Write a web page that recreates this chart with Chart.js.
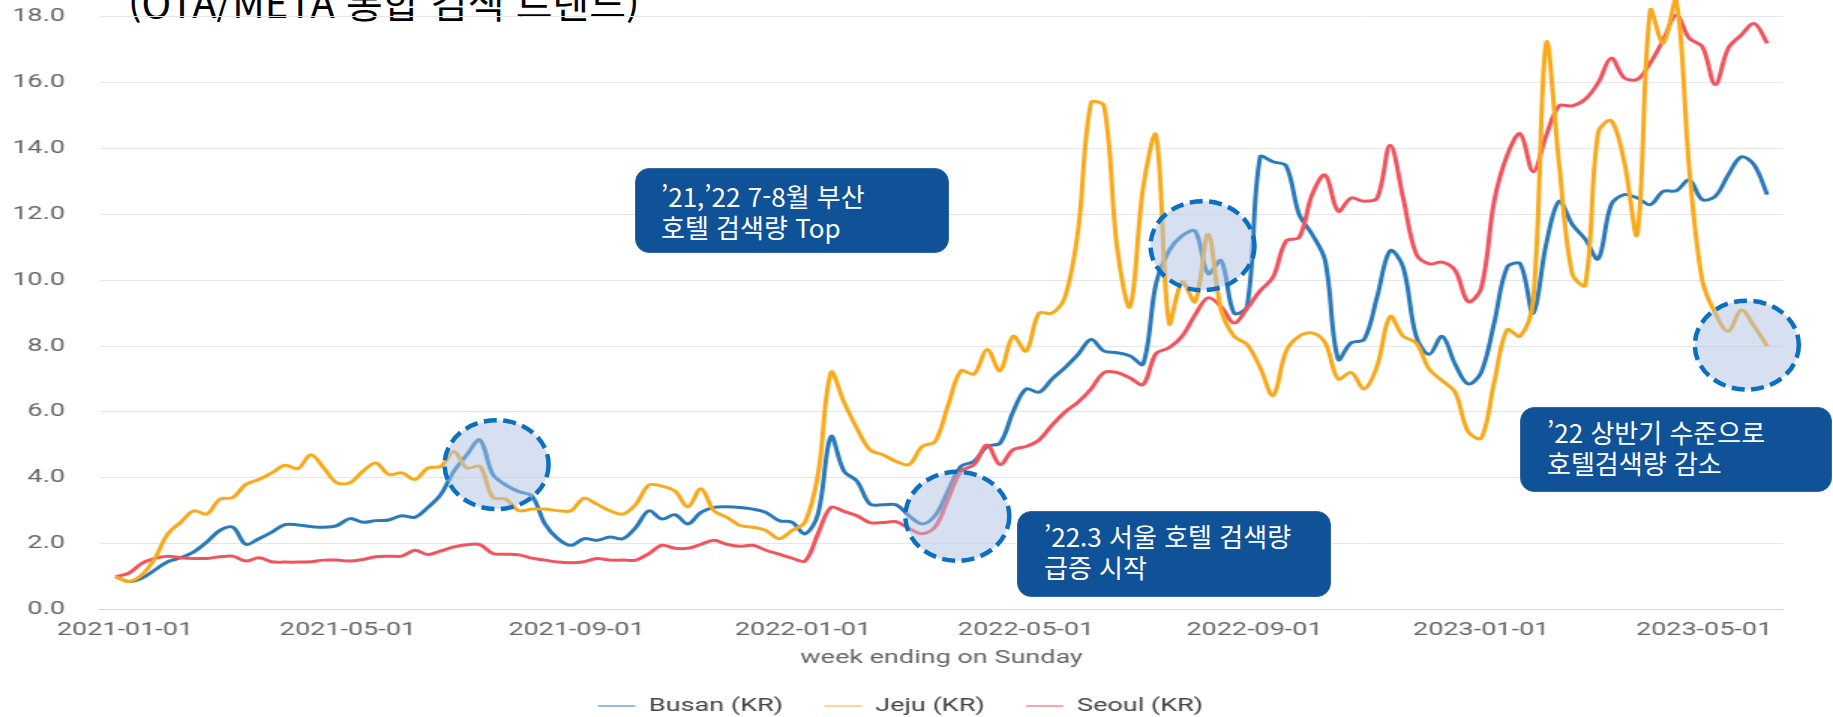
<!DOCTYPE html>
<html lang="ko">
<head>
<meta charset="utf-8">
<title>호텔 검색 트렌드</title>
<script src="https://cdn.jsdelivr.net/npm/chart.js@4.4.1/dist/chart.umd.min.js"></script>
<style>
  html, body { margin: 0; padding: 0; background: #fff; overflow: hidden; }
  body { width: 1833px; height: 717px; position: relative; }
  /* the source chart was stretched sideways, so the canvas is drawn narrow and scaled */
  #wrap { position: absolute; left: 0; top: -28px; width: 1222px; height: 753px;
          transform: scaleX(1.5); transform-origin: 0 0; }
  #overlay { position: absolute; left: 0; top: 0; width: 1833px; height: 717px; pointer-events: none; }
  .title { position: absolute; left: 128px; top: -19px; font: 400 40px/40px "Noto Sans CJK KR", sans-serif;
           color: #000; white-space: nowrap; }
  .note { position: absolute; box-sizing: border-box; background: #0f5298; color: #fff;
          border: 1px solid #3566a0; border-radius: 14px; font: 400 26px/31px "Noto Sans CJK KR", sans-serif;
          white-space: nowrap; }
</style>
</head>
<body>
<div class="title">(OTA/META 통합 검색 트렌드)</div>
<div id="wrap"><canvas id="trend" width="1222" height="753"></canvas></div>
<svg id="overlay" width="1833" height="717"></svg>
<div class="note" style="left:635px; top:168px; width:314px; height:85px; padding:11px 0 0 25px;">’21,’22 7-8월 부산<br>호텔 검색량 Top</div>
<div class="note" style="left:1017px; top:511px; width:314px; height:86px; padding:8px 0 0 26px;">’22.3 서울 호텔 검색량<br>급증 시작</div>
<div class="note" style="left:1520px; top:407px; width:312px; height:85px; padding:8px 0 0 26px;">’22 상반기 수준으로<br>호텔검색량 감소</div>
<script>
// weekly values, first week ends 2020-12-27
const firstWeek = "2020-12-27";

const busan = [1.0, 0.85, 0.95, 1.2, 1.45, 1.57, 1.75, 2.05, 2.4, 2.5,
  1.98, 2.15, 2.35, 2.58, 2.57, 2.52, 2.5, 2.55, 2.76, 2.65,
  2.7, 2.72, 2.85, 2.8, 3.1, 3.5, 4.2, 4.7, 5.15, 4.1,
  3.78, 3.58, 3.45, 2.6, 2.15, 1.95, 2.15, 2.1, 2.2, 2.15,
  2.5, 3.0, 2.75, 2.88, 2.6, 2.95, 3.1, 3.12, 3.1, 3.05,
  2.95, 2.7, 2.65, 2.3, 2.9, 5.25, 4.2, 3.9, 3.2, 3.18,
  3.18, 2.85, 2.6, 2.85, 3.6, 4.35, 4.5, 4.95, 5.05, 6.0,
  6.7, 6.6, 7.0, 7.35, 7.75, 8.2, 7.85, 7.8, 7.7, 7.45,
  9.9, 10.9, 11.35, 11.5, 10.2, 10.6, 9.0, 9.2, 13.75, 13.6,
  13.48, 12.0, 11.4, 10.6, 7.6, 8.1, 8.2, 9.5, 10.9, 10.4,
  8.3, 7.75, 8.3, 7.45, 6.85, 7.2, 8.7, 10.4, 10.5, 9.0,
  11.1, 12.4, 11.7, 11.25, 10.65, 12.3, 12.6, 12.5, 12.3, 12.7,
  12.72, 13.05, 12.45, 12.55, 13.2, 13.75, 13.5, 12.6];

const jeju = [1.0, 0.85, 1.05, 1.55, 2.3, 2.65, 3.0, 2.9, 3.35, 3.4,
  3.8, 3.95, 4.15, 4.38, 4.28, 4.7, 4.3, 3.85, 3.85, 4.2,
  4.45, 4.1, 4.15, 3.95, 4.3, 4.35, 4.8, 4.3, 4.35, 3.4,
  3.35, 3.0, 3.05, 3.05, 3.0, 3.0, 3.38, 3.2, 3.0, 2.9,
  3.2, 3.78, 3.75, 3.6, 3.12, 3.67, 3.0, 2.8, 2.55, 2.5,
  2.4, 2.15, 2.4, 2.65, 4.1, 7.2, 6.3, 5.5, 4.85, 4.7,
  4.5, 4.4, 4.95, 5.1, 6.2, 7.25, 7.15, 7.9, 7.25, 8.3,
  7.85, 9.0, 9.0, 9.5, 11.5, 15.4, 15.3, 11.0, 9.2, 12.8,
  14.4, 8.7, 9.95, 9.35, 11.4, 9.1, 8.3, 8.05, 7.35, 6.5,
  7.85, 8.3, 8.4, 8.1, 7.0, 7.2, 6.7, 7.4, 8.9, 8.3,
  8.1, 7.3, 6.95, 6.6, 5.4, 5.2, 6.9, 8.5, 8.3, 9.4,
  17.2, 13.5, 10.2, 9.85, 14.5, 14.85, 13.6, 11.4, 18.2, 17.2,
  18.5, 13.4, 10.0, 9.0, 8.45, 9.1, 8.6, 8.0];

const seoul = [1.0, 1.1, 1.4, 1.55, 1.62, 1.57, 1.55, 1.55, 1.6, 1.62,
  1.47, 1.57, 1.45, 1.44, 1.44, 1.45, 1.5, 1.5, 1.47, 1.52,
  1.6, 1.62, 1.62, 1.8, 1.67, 1.78, 1.9, 1.97, 1.97, 1.7,
  1.68, 1.66, 1.56, 1.5, 1.44, 1.42, 1.45, 1.55, 1.5, 1.5,
  1.5, 1.7, 1.95, 1.86, 1.86, 1.98, 2.1, 1.98, 1.92, 1.95,
  1.8, 1.68, 1.56, 1.47, 2.3, 3.1, 2.98, 2.85, 2.64, 2.64,
  2.67, 2.46, 2.3, 2.5, 3.35, 4.2, 4.4, 5.0, 4.4, 4.85,
  4.95, 5.15, 5.6, 6.0, 6.3, 6.7, 7.2, 7.2, 7.03, 6.83,
  7.78, 7.95, 8.3, 8.95, 9.47, 9.2, 8.7, 9.15, 9.68, 10.1,
  11.2, 11.3, 12.6, 13.2, 12.1, 12.5, 12.4, 12.5, 14.1, 12.5,
  10.8, 10.5, 10.55, 10.3, 9.35, 9.75, 12.4, 13.8, 14.45, 13.3,
  14.4, 15.3, 15.3, 15.5, 16.0, 16.75, 16.15, 16.1, 16.6, 17.3,
  18.05, 17.35, 17.1, 15.95, 17.05, 17.45, 17.8, 17.2];

const xTickDates = ["2021-01-01", "2021-05-01", "2021-09-01", "2022-01-01",
                    "2022-05-01", "2022-09-01", "2023-01-01", "2023-05-01"];
const yTicks = [0, 2, 4, 6, 8, 10, 12, 14, 16, 18];

// dashed highlight circles, anchored to data (date, value)
const highlights = [
  { date: "2021-07-20", value: 4.4 },
  { date: "2022-03-25", value: 2.83 },
  { date: "2022-08-04", value: 11.05 },
  { date: "2023-05-24", value: 8.03 }
];

const BUSAN = "#2a7ab9";
const JEJU = "#f8aa1c";
const SEOUL = "#f2535d";
const STRETCH = 1.5;
const WRAP_TOP = -28;

const DAY = 86400000;
const origin = Date.UTC(2021, 0, 1);
function dayOf(s) {
    const [y, m, d] = s.split("-").map(Number);
    return (Date.UTC(y, m - 1, d) - origin) / DAY;
}
function labelOf(day) {
    return new Date(origin + day * DAY).toISOString().slice(0, 10);
}
const start = dayOf(firstWeek);
const toPoints = arr => arr.map((v, i) => ({ x: start + 7 * i, y: v }));

const font = { family: "Roboto", size: 18 };

// legend sits a little right of centre in the original
const nudgeLegend = {
    id: "nudgeLegend",
    afterLayout(chart) { chart.legend.left += 12; },
};

const ctx = document.getElementById("trend").getContext("2d");
const chart = new Chart(ctx, {
    type: "line",
    data: {
        datasets: [
            { label: "Busan (KR)", data: toPoints(busan), borderColor: BUSAN, backgroundColor: BUSAN, order: 2 },
            { label: "Jeju (KR)", data: toPoints(jeju), borderColor: JEJU, backgroundColor: JEJU, order: 0 },
            { label: "Seoul (KR)", data: toPoints(seoul), borderColor: SEOUL, backgroundColor: SEOUL, order: 1 },
        ],
    },
    options: {
        responsive: false,
        animation: false,
        devicePixelRatio: 1,
        layout: { padding: { left: 0, right: 33.3, top: 12, bottom: 0 } },
        elements: {
            point: { radius: 0 },
            line: { borderWidth: 3, tension: 0.35, fill: false },
        },
        scales: {
            x: {
                type: "linear",
                min: -13.46,
                max: 892.5,
                grid: { display: false },
                border: { display: true, color: "#ccd6eb", width: 1 },
                afterBuildTicks: axis => { axis.ticks = xTickDates.map(s => ({ value: dayOf(s) })); },
                ticks: {
                    callback: v => labelOf(v),
                    color: "#666",
                    font: font,
                    padding: 2.5,
                    maxRotation: 0,
                    autoSkip: false,
                },
                title: {
                    display: true,
                    text: "week ending on Sunday",
                    color: "#666",
                    font: font,
                    padding: { top: 3.5, bottom: 0.3 },
                },
            },
            y: {
                min: 0,
                max: 19,
                afterBuildTicks: axis => { axis.ticks = yTicks.map(v => ({ value: v })); },
                afterFit: axis => { axis.width = 66.7; },
                grid: {
                    color: c => (c.tick && c.tick.value === 0 ? "#ccd6eb" : "#e6e6e6"),
                    tickLength: 23.4,
                    tickColor: "rgba(0,0,0,0)",
                },
                border: { display: false },
                ticks: {
                    padding: 0,
                    color: "#666",
                    font: font,
                    callback: v => v.toFixed(1),
                },
            },
        },
        plugins: {
            legend: {
                position: "bottom",
                labels: {
                    usePointStyle: true,
                    pointStyle: "line",
                    pointStyleWidth: 25,
                    padding: 27.5,
                    color: "#444",
                    font: font,
                    sort: (a, b) => a.datasetIndex - b.datasetIndex,
                },
            },
            tooltip: { enabled: false },
        },
    },
    plugins: [nudgeLegend],
});

// overlay circles, positioned through the chart scales
const svg = document.getElementById("overlay");
const NS = "http://www.w3.org/2000/svg";
highlights.forEach(h => {
    const e = document.createElementNS(NS, "ellipse");
    e.setAttribute("cx", chart.scales.x.getPixelForValue(dayOf(h.date)) * STRETCH);
    e.setAttribute("cy", WRAP_TOP + chart.scales.y.getPixelForValue(h.value));
    e.setAttribute("rx", 52);
    e.setAttribute("ry", 44.5);
    e.setAttribute("fill", "rgba(173,194,228,0.5)");
    e.setAttribute("stroke", "#0c6fc2");
    e.setAttribute("stroke-width", 4.5);
    e.setAttribute("stroke-dasharray", "13 6.5");
    svg.appendChild(e);
});
</script>
</body>
</html>
